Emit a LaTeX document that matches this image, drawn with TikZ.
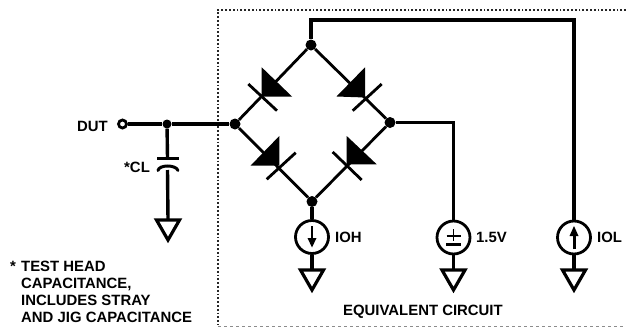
\documentclass[tikz,border=0pt]{standalone}
\usepackage{fontspec}
\setmainfont{Liberation Sans}
\usetikzlibrary{calc}
\tikzset{
  wire/.style={line width=3.4pt,black},
  dot/.style={circle,fill=black,inner sep=0pt,minimum size=11pt},
  lab/.style={font=\bfseries\fontsize{14.9}{14.9}\selectfont,inner sep=0pt,text=black,anchor=base west},
  source/.style={circle,draw=black,line width=2.8pt,minimum size=33pt,inner sep=0pt,fill=white},
  gnd/.style={line width=3.2pt,draw=black,line join=miter},
  bar/.style={line width=2.8pt,black}
}
\newcommand{\groundsym}[2]{\draw[gnd] (#1-11.5,#2) -- (#1+11.5,#2) -- (#1,#2+20) -- cycle;}
\begin{document}
\begin{tikzpicture}[x=1pt,y=-1pt]
\useasboundingbox (0,0) rectangle (626,327);
% equivalent circuit box
\draw[line width=1.8pt,dotted,black!85] (626,10) -- (218,10) -- (218,325);
\draw[line width=0.6pt,dashed,black!45] (218,326) -- (626,326);
% nodes
\node[dot] (L) at (235,124) {};
\node[dot] (T) at (311,45) {};
\node[dot] (R) at (390,122.5) {};
\node[dot] (B) at (312,201.5) {};
\node[dot,minimum size=9pt] (J) at (167,124) {};
\node[circle,draw=black,line width=2.8pt,minimum size=8pt,inner sep=0pt] (DUTp) at (122.5,124) {};
\coordinate (C1) at (167.5,158);
\coordinate (C2) at (167.5,170);
\coordinate (G0) at (168,220);
\node[source] (IOHs) at (312,237) {};
\node[source] (Vs) at (453.5,237.5) {};
\node[source] (IOLs) at (574,237.5) {};
\coordinate (Rc) at (453.5,122.5);
\coordinate (Tc) at (311,20);
\coordinate (Tr) at (574,20);
\coordinate (G1) at (312,270);
\coordinate (G2) at (453.5,270);
\coordinate (G3) at (574,270);
% wires
\draw[wire] (DUTp) -- (J) -- (L);
\draw[wire] (J) -- (C1);
\draw[wire] (C2) -- (G0);
\draw[wire,line width=2.8pt] (L) -- (T) -- (R) -- (B) -- (L);
\draw[wire,line join=miter] (T) -- (Tc) -- (Tr) -- (IOLs);
\draw[wire,line join=miter] (R) -- (Rc) -- (Vs);
\draw[wire] (B) -- (IOHs);
\draw[wire] (IOHs) -- (G1);
\draw[wire] (Vs) -- (G2);
\draw[wire] (IOLs) -- (G3);
% capacitor
\draw[line width=3pt] (157,158) -- (178.5,158);
\draw[line width=3pt,line cap=round] (158,170.5) .. controls (159,164.5) and (176,164.5) .. (178,170.5);
% grounds
\groundsym{168}{220}
\groundsym{312}{270}
\groundsym{453.5}{270}
\groundsym{574}{270}
% diodes
\fill (261.7,67.3) -- (292,96.5) -- (261.7,96.5) -- cycle;
\draw[bar] (248.3,84) -- (277,110.7);
\fill (365,67.3) -- (336.5,96.5) -- (365,97.5) -- cycle;
\draw[bar] (352.7,110.7) -- (381.7,84);
\fill (279.3,136) -- (250.5,165.7) -- (279.3,165.7) -- cycle;
\draw[bar] (266.7,179.3) -- (295.7,152.7);
\fill (346.7,136) -- (376.7,164.3) -- (346.7,164.3) -- cycle;
\draw[bar] (332.7,152) -- (361.7,180);
% source symbols
\draw[line width=2.6pt] (312,226) -- (312,242);
\fill (312,247.5) -- (307.5,238) -- (316.5,238) -- cycle;
\draw[line width=3pt] (574,249) -- (574,233);
\fill (574,226) -- (569.5,236) -- (578.5,236) -- cycle;
\draw[line width=1.8pt] (446.5,236) -- (460.5,236) (453.5,229) -- (453.5,241);
\draw[line width=2.2pt] (446,244.5) -- (461,244.5);
% labels
\node[lab] (tDUT) at (77,131) {DUT};
\node[lab] (tCL) at (124,172) {*CL};
\node[lab] (tIOH) at (335,242) {IOH};
\node[lab] (tV) at (476,242) {1.5V};
\node[lab] (tIOL) at (597,242) {IOL};
\node[lab] (tEQ) at (343,315) {EQUIVALENT CIRCUIT};
\node[lab] (tS) at (10,271) {*};
\node[lab] (t1) at (21,271) {TEST HEAD};
\node[lab] (t2) at (21,288) {CAPACITANCE,};
\node[lab] (t3) at (21,305.5) {INCLUDES STRAY};
\node[lab] (t4) at (21,322) {AND JIG CAPACITANCE};
\end{tikzpicture}
\end{document}
